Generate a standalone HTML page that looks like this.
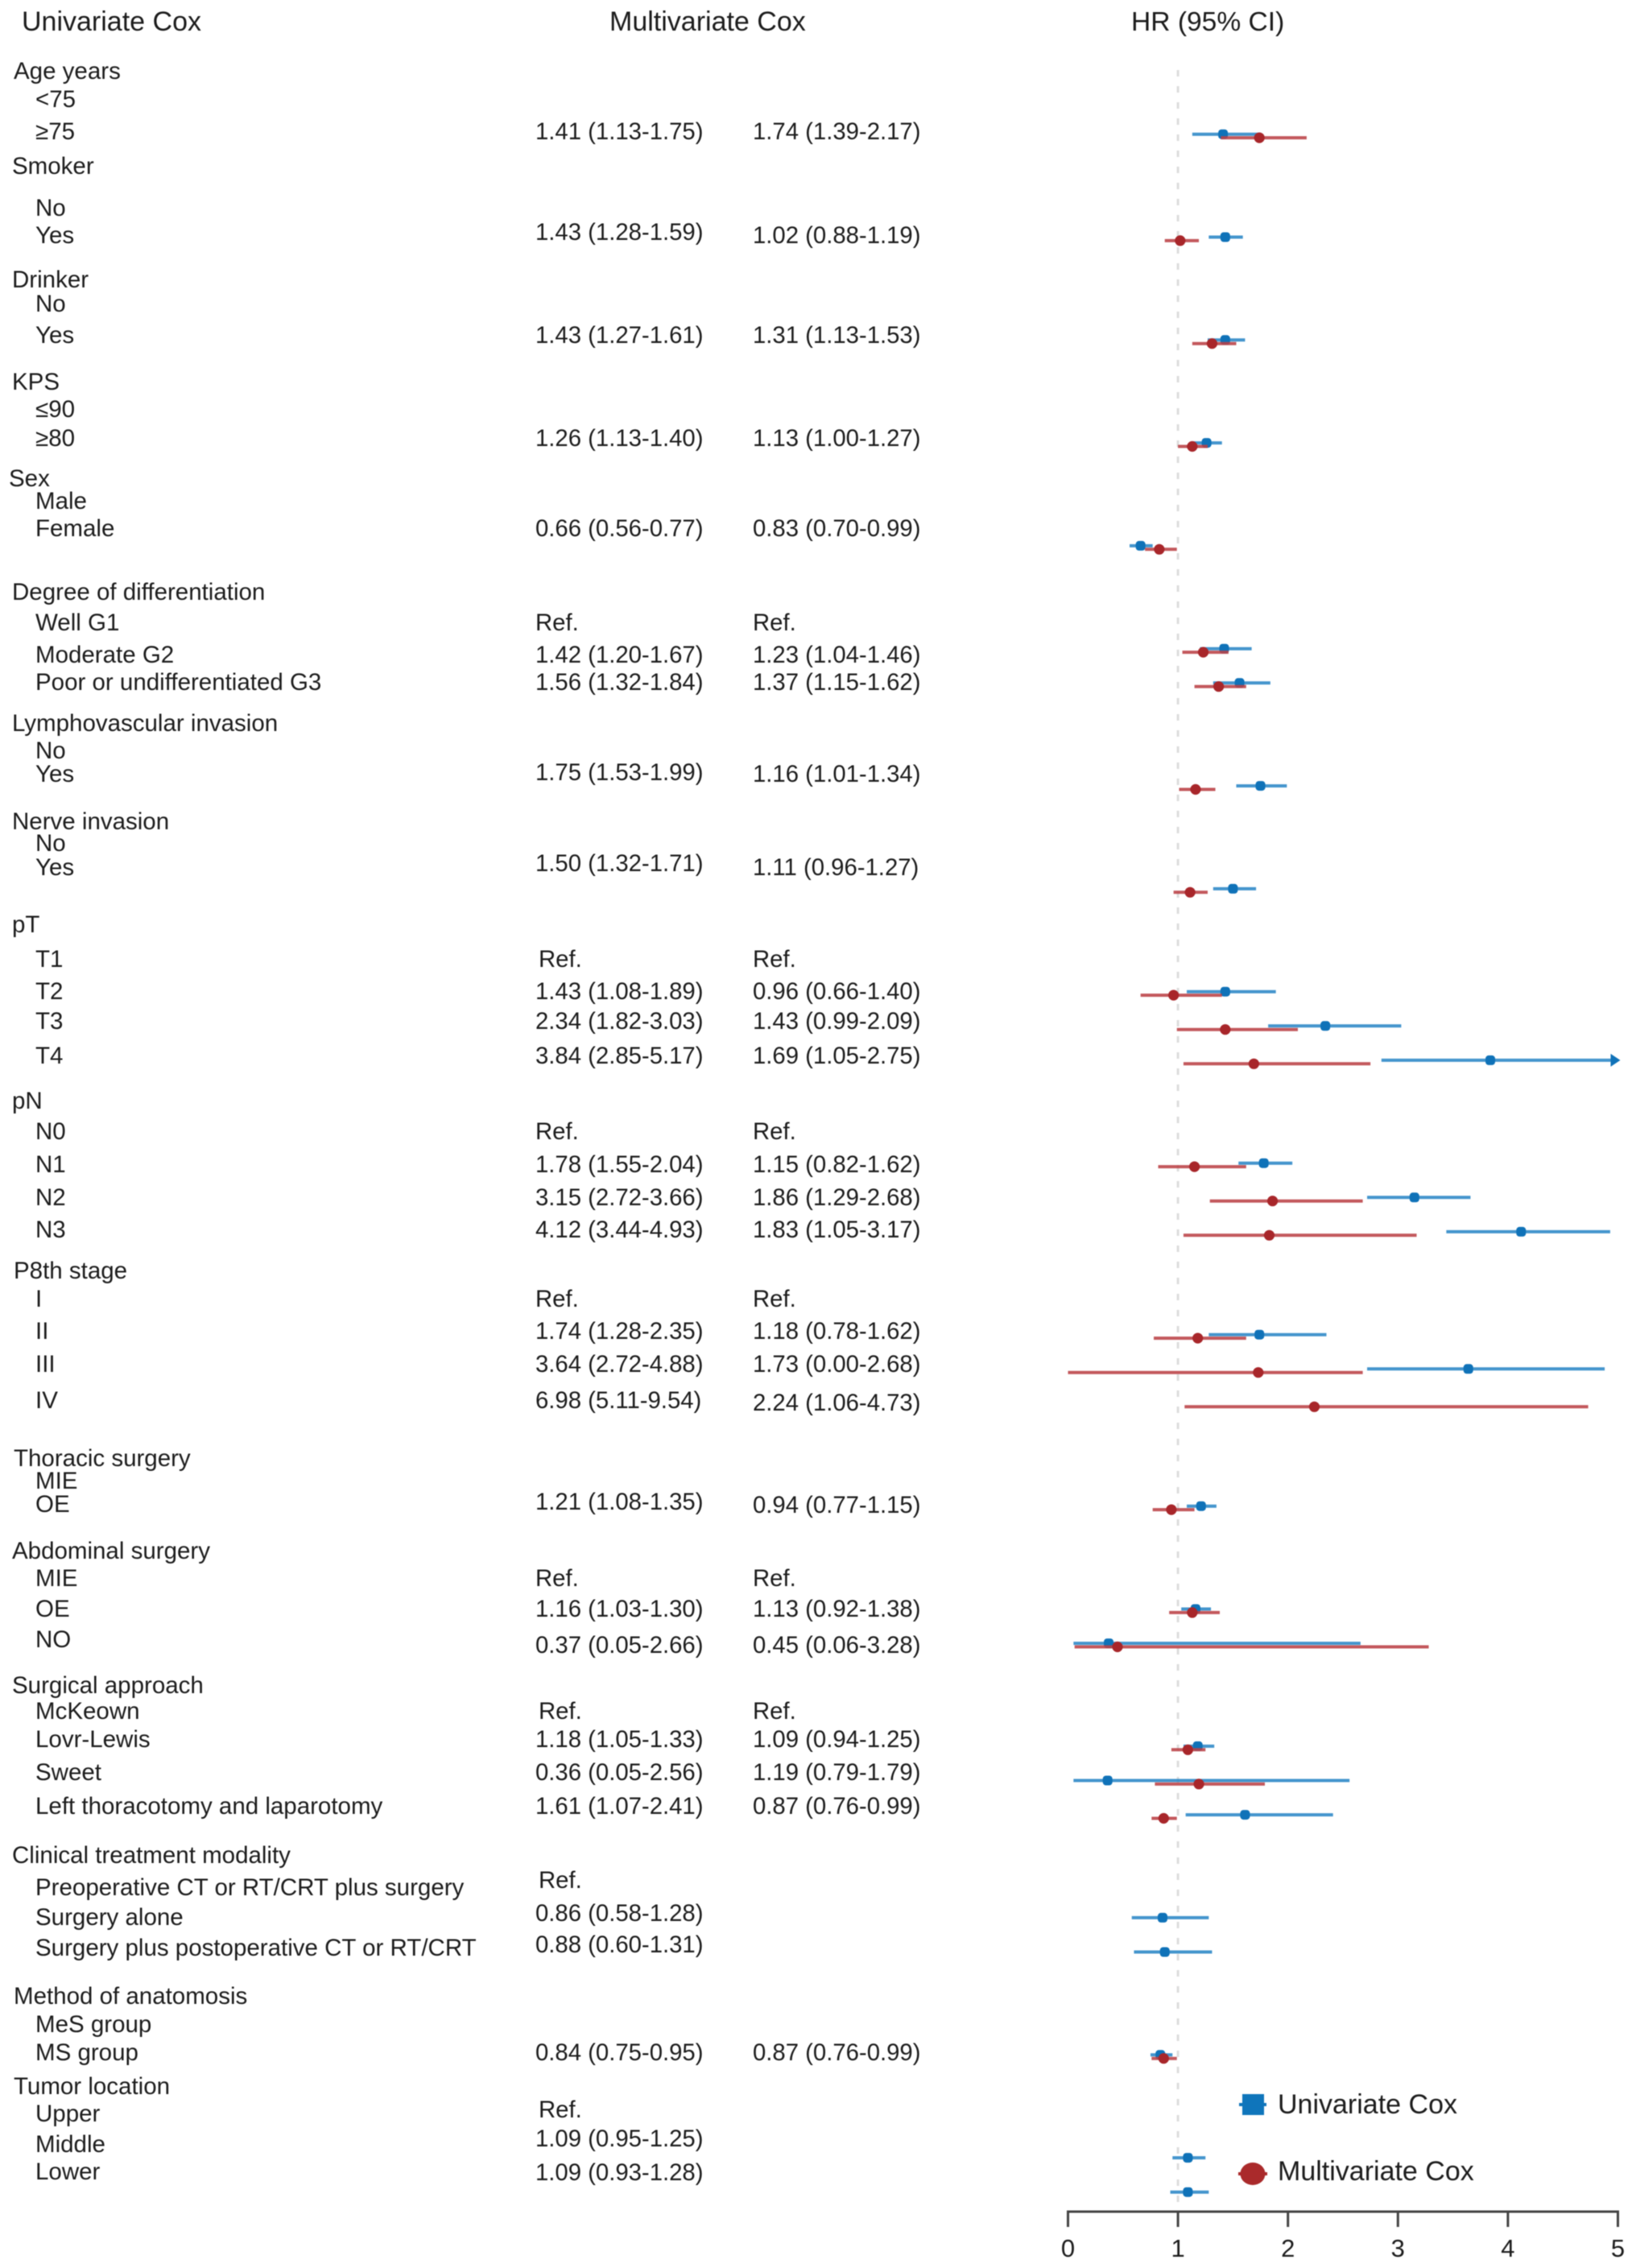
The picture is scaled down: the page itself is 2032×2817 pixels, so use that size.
<!DOCTYPE html>
<html lang="en">
<head>
<meta charset="utf-8">
<title>Forest plot of univariate and multivariate Cox regression</title>
<style>
  html, body { margin: 0; padding: 0; background: #fff; }
  body { width: 2032px; height: 2817px; overflow: hidden; }
  #chart { display: block; filter: blur(0.55px); }
  text { font-family: "Liberation Sans", "DejaVu Sans", sans-serif; fill: #1c1c1c; font-size: 29.3px; }
  .labels text { font-size: 29.5px; }
  .hd { font-size: 34px; }
</style>
</head>
<body>
<svg id="chart" xmlns="http://www.w3.org/2000/svg" width="2032" height="2817" viewBox="0 0 2032 2817">
  <rect x="0" y="0" width="2032" height="2817" fill="#fff"/>

  <g>
    <text class="hd" x="27" y="38">Univariate Cox</text>
    <text class="hd" x="757" y="38">Multivariate Cox</text>
    <text style="font-size:33.6px" x="1405" y="38">HR (95% CI)</text>
  </g>

  <g class="labels">
    <text x="17" y="98">Age years</text>
    <text x="44" y="133">&lt;75</text>
    <text x="44" y="173">≥75</text>
    <text x="15" y="216">Smoker</text>
    <text x="44" y="268">No</text>
    <text x="44" y="302">Yes</text>
    <text x="15" y="357">Drinker</text>
    <text x="44" y="387">No</text>
    <text x="44" y="426">Yes</text>
    <text x="15" y="484">KPS</text>
    <text x="44" y="518">≤90</text>
    <text x="44" y="554">≥80</text>
    <text x="11" y="604">Sex</text>
    <text x="44" y="632">Male</text>
    <text x="44" y="666">Female</text>
    <text x="15" y="745">Degree of differentiation</text>
    <text x="44" y="783">Well G1</text>
    <text x="44" y="823">Moderate G2</text>
    <text x="44" y="857">Poor or undifferentiated G3</text>
    <text x="15" y="908">Lymphovascular invasion</text>
    <text x="44" y="942">No</text>
    <text x="44" y="971">Yes</text>
    <text x="15" y="1030">Nerve invasion</text>
    <text x="44" y="1057">No</text>
    <text x="44" y="1087">Yes</text>
    <text x="15" y="1158">pT</text>
    <text x="44" y="1201">T1</text>
    <text x="44" y="1241">T2</text>
    <text x="44" y="1278">T3</text>
    <text x="44" y="1321">T4</text>
    <text x="15" y="1377">pN</text>
    <text x="44" y="1415">N0</text>
    <text x="44" y="1456">N1</text>
    <text x="44" y="1497">N2</text>
    <text x="44" y="1537">N3</text>
    <text x="17" y="1588">P8th stage</text>
    <text x="44" y="1623">I</text>
    <text x="44" y="1663">II</text>
    <text x="44" y="1704">III</text>
    <text x="44" y="1749">IV</text>
    <text x="17" y="1821">Thoracic surgery</text>
    <text x="44" y="1849">MIE</text>
    <text x="44" y="1878">OE</text>
    <text x="15" y="1936">Abdominal surgery</text>
    <text x="44" y="1970">MIE</text>
    <text x="44" y="2008">OE</text>
    <text x="44" y="2046">NO</text>
    <text x="15" y="2103">Surgical approach</text>
    <text x="44" y="2135">McKeown</text>
    <text x="44" y="2170">Lovr-Lewis</text>
    <text x="44" y="2211">Sweet</text>
    <text x="44" y="2253">Left thoracotomy and laparotomy</text>
    <text x="15" y="2314">Clinical treatment modality</text>
    <text x="44" y="2354">Preoperative CT or RT/CRT plus surgery</text>
    <text x="44" y="2391">Surgery alone</text>
    <text x="44" y="2429">Surgery plus postoperative CT or RT/CRT</text>
    <text x="17" y="2489">Method of anatomosis</text>
    <text x="44" y="2524">MeS group</text>
    <text x="44" y="2559">MS group</text>
    <text x="17" y="2601">Tumor location</text>
    <text x="44" y="2635">Upper</text>
    <text x="44" y="2673">Middle</text>
    <text x="44" y="2707">Lower</text>
  </g>

  <g>
    <text x="665" y="173">1.41 (1.13-1.75)</text>
    <text x="665" y="298">1.43 (1.28-1.59)</text>
    <text x="665" y="426">1.43 (1.27-1.61)</text>
    <text x="665" y="554">1.26 (1.13-1.40)</text>
    <text x="665" y="666">0.66 (0.56-0.77)</text>
    <text x="665" y="783">Ref.</text>
    <text x="665" y="823">1.42 (1.20-1.67)</text>
    <text x="665" y="857">1.56 (1.32-1.84)</text>
    <text x="665" y="969">1.75 (1.53-1.99)</text>
    <text x="665" y="1082">1.50 (1.32-1.71)</text>
    <text x="669" y="1201">Ref.</text>
    <text x="665" y="1241">1.43 (1.08-1.89)</text>
    <text x="665" y="1278">2.34 (1.82-3.03)</text>
    <text x="665" y="1321">3.84 (2.85-5.17)</text>
    <text x="665" y="1415">Ref.</text>
    <text x="665" y="1456">1.78 (1.55-2.04)</text>
    <text x="665" y="1497">3.15 (2.72-3.66)</text>
    <text x="665" y="1537">4.12 (3.44-4.93)</text>
    <text x="665" y="1623">Ref.</text>
    <text x="665" y="1663">1.74 (1.28-2.35)</text>
    <text x="665" y="1704">3.64 (2.72-4.88)</text>
    <text x="665" y="1749">6.98 (5.11-9.54)</text>
    <text x="665" y="1875">1.21 (1.08-1.35)</text>
    <text x="665" y="1970">Ref.</text>
    <text x="665" y="2008">1.16 (1.03-1.30)</text>
    <text x="665" y="2053">0.37 (0.05-2.66)</text>
    <text x="669" y="2135">Ref.</text>
    <text x="665" y="2170">1.18 (1.05-1.33)</text>
    <text x="665" y="2211">0.36 (0.05-2.56)</text>
    <text x="665" y="2253">1.61 (1.07-2.41)</text>
    <text x="669" y="2345">Ref.</text>
    <text x="665" y="2386">0.86 (0.58-1.28)</text>
    <text x="665" y="2425">0.88 (0.60-1.31)</text>
    <text x="665" y="2559">0.84 (0.75-0.95)</text>
    <text x="669" y="2630">Ref.</text>
    <text x="665" y="2666">1.09 (0.95-1.25)</text>
    <text x="665" y="2708">1.09 (0.93-1.28)</text>
  </g>

  <g>
    <text x="935" y="173">1.74 (1.39-2.17)</text>
    <text x="935" y="302">1.02 (0.88-1.19)</text>
    <text x="935" y="426">1.31 (1.13-1.53)</text>
    <text x="935" y="554">1.13 (1.00-1.27)</text>
    <text x="935" y="666">0.83 (0.70-0.99)</text>
    <text x="935" y="783">Ref.</text>
    <text x="935" y="823">1.23 (1.04-1.46)</text>
    <text x="935" y="857">1.37 (1.15-1.62)</text>
    <text x="935" y="971">1.16 (1.01-1.34)</text>
    <text x="935" y="1087">1.11 (0.96-1.27)</text>
    <text x="935" y="1201">Ref.</text>
    <text x="935" y="1241">0.96 (0.66-1.40)</text>
    <text x="935" y="1278">1.43 (0.99-2.09)</text>
    <text x="935" y="1321">1.69 (1.05-2.75)</text>
    <text x="935" y="1415">Ref.</text>
    <text x="935" y="1456">1.15 (0.82-1.62)</text>
    <text x="935" y="1497">1.86 (1.29-2.68)</text>
    <text x="935" y="1537">1.83 (1.05-3.17)</text>
    <text x="935" y="1623">Ref.</text>
    <text x="935" y="1663">1.18 (0.78-1.62)</text>
    <text x="935" y="1704">1.73 (0.00-2.68)</text>
    <text x="935" y="1752">2.24 (1.06-4.73)</text>
    <text x="935" y="1879">0.94 (0.77-1.15)</text>
    <text x="935" y="1970">Ref.</text>
    <text x="935" y="2008">1.13 (0.92-1.38)</text>
    <text x="935" y="2053">0.45 (0.06-3.28)</text>
    <text x="935" y="2135">Ref.</text>
    <text x="935" y="2170">1.09 (0.94-1.25)</text>
    <text x="935" y="2211">1.19 (0.79-1.79)</text>
    <text x="935" y="2253">0.87 (0.76-0.99)</text>
    <text x="935" y="2559">0.87 (0.76-0.99)</text>
  </g>

  <g id="plot"></g>

  <g>
    <g>
      <line x1="1539" x2="1573" y1="2614" y2="2614" stroke="#0f75bb" stroke-width="4"/>
      <rect x="1543" y="2601" width="27" height="26" fill="#0f75bb"/>
      <text class="hd" x="1587" y="2625">Univariate Cox</text>
    </g>
    <g>
      <line x1="1538" x2="1574" y1="2700" y2="2700" stroke="#aa2a2b" stroke-width="4"/>
      <ellipse cx="1556" cy="2700" rx="15.5" ry="14" fill="#aa2a2b"/>
      <text class="hd" x="1587" y="2708">Multivariate Cox</text>
    </g>
  </g>
</svg>

<script>
// ---- chart data (one entry per plot row, null = no estimate drawn) ----
const categories = [
  "Age years", "<75", "≥75",
  "Smoker", "Smoker No", "Smoker Yes",
  "Drinker", "Drinker No", "Drinker Yes",
  "KPS", "≤90", "≥80",
  "Sex", "Male", "Female",
  "Degree of differentiation", "Well G1", "Moderate G2", "Poor or undifferentiated G3",
  "Lymphovascular invasion", "LVI No", "LVI Yes",
  "Nerve invasion", "Nerve No", "Nerve Yes",
  "pT", "T1", "T2", "T3", "T4",
  "pN", "N0", "N1", "N2", "N3",
  "P8th stage", "I", "II", "III", "IV",
  "Thoracic surgery", "Thoracic MIE", "Thoracic OE",
  "Abdominal surgery", "Abdominal MIE", "Abdominal OE", "Abdominal NO",
  "Surgical approach", "McKeown", "Lovr-Lewis", "Sweet", "Left thoracotomy and laparotomy",
  "Clinical treatment modality", "Preoperative CT or RT/CRT plus surgery", "Surgery alone", "Surgery plus postoperative CT or RT/CRT",
  "Method of anatomosis", "MeS group", "MS group",
  "Tumor location", "Upper", "Middle", "Lower"
];
const uniHR = [
  null, null, 1.41,
  null, null, 1.43,
  null, null, 1.43,
  null, null, 1.26,
  null, null, 0.66,
  null, null, 1.42, 1.56,
  null, null, 1.75,
  null, null, 1.50,
  null, null, 1.43, 2.34, 3.84,
  null, null, 1.78, 3.15, 4.12,
  null, null, 1.74, 3.64, 6.98,
  null, null, 1.21,
  null, null, 1.16, 0.37,
  null, null, 1.18, 0.36, 1.61,
  null, null, 0.86, 0.88,
  null, null, 0.84,
  null, null, 1.09, 1.09
];
const uniLow = [
  null, null, 1.13,
  null, null, 1.28,
  null, null, 1.27,
  null, null, 1.13,
  null, null, 0.56,
  null, null, 1.20, 1.32,
  null, null, 1.53,
  null, null, 1.32,
  null, null, 1.08, 1.82, 2.85,
  null, null, 1.55, 2.72, 3.44,
  null, null, 1.28, 2.72, 5.11,
  null, null, 1.08,
  null, null, 1.03, 0.05,
  null, null, 1.05, 0.05, 1.07,
  null, null, 0.58, 0.60,
  null, null, 0.75,
  null, null, 0.95, 0.93
];
const uniHigh = [
  null, null, 1.75,
  null, null, 1.59,
  null, null, 1.61,
  null, null, 1.40,
  null, null, 0.77,
  null, null, 1.67, 1.84,
  null, null, 1.99,
  null, null, 1.71,
  null, null, 1.89, 3.03, 5.17,
  null, null, 2.04, 3.66, 4.93,
  null, null, 2.35, 4.88, 9.54,
  null, null, 1.35,
  null, null, 1.30, 2.66,
  null, null, 1.33, 2.56, 2.41,
  null, null, 1.28, 1.31,
  null, null, 0.95,
  null, null, 1.25, 1.28
];
const multiHR = [
  null, null, 1.74,
  null, null, 1.02,
  null, null, 1.31,
  null, null, 1.13,
  null, null, 0.83,
  null, null, 1.23, 1.37,
  null, null, 1.16,
  null, null, 1.11,
  null, null, 0.96, 1.43, 1.69,
  null, null, 1.15, 1.86, 1.83,
  null, null, 1.18, 1.73, 2.24,
  null, null, 0.94,
  null, null, 1.13, 0.45,
  null, null, 1.09, 1.19, 0.87,
  null, null, null, null,
  null, null, 0.87,
  null, null, null, null
];
const multiLow = [
  null, null, 1.39,
  null, null, 0.88,
  null, null, 1.13,
  null, null, 1.00,
  null, null, 0.70,
  null, null, 1.04, 1.15,
  null, null, 1.01,
  null, null, 0.96,
  null, null, 0.66, 0.99, 1.05,
  null, null, 0.82, 1.29, 1.05,
  null, null, 0.78, 0.00, 1.06,
  null, null, 0.77,
  null, null, 0.92, 0.06,
  null, null, 0.94, 0.79, 0.76,
  null, null, null, null,
  null, null, 0.76,
  null, null, null, null
];
const multiHigh = [
  null, null, 2.17,
  null, null, 1.19,
  null, null, 1.53,
  null, null, 1.27,
  null, null, 0.99,
  null, null, 1.46, 1.62,
  null, null, 1.34,
  null, null, 1.27,
  null, null, 1.40, 2.09, 2.75,
  null, null, 1.62, 2.68, 3.17,
  null, null, 1.62, 2.68, 4.73,
  null, null, 1.15,
  null, null, 1.38, 3.28,
  null, null, 1.25, 1.79, 0.99,
  null, null, null, null,
  null, null, 0.99,
  null, null, null, null
];
const xTicks = [0, 1, 2, 3, 4, 5];
const referenceHR = 1;

// ---- axis functions ----
const xMin = xTicks[0];
const xMax = xTicks[xTicks.length - 1];
function xScale(v) { return 1326.5 + (v - xMin) * (2009.5 - 1326.5) / (xMax - xMin); }
function yScale(i) { return 81.5 + i * 42.6; }
const axisY = 2747;

const SVGNS = 'http://www.w3.org/2000/svg';
const plot = document.getElementById('plot');
function make(tag, parent) {
  const el = document.createElementNS(SVGNS, tag);
  parent.appendChild(el);
  
  return el;
}

// reference line at HR = 1
const refLine = make('line', plot);

refLine.setAttribute('x1', xScale(referenceHR));
refLine.setAttribute('x2', xScale(referenceHR));
refLine.setAttribute('y1', 87);
refLine.setAttribute('y2', axisY);
refLine.setAttribute('stroke', '#dddddd');
refLine.setAttribute('stroke-width', 3);
refLine.setAttribute('stroke-dasharray', '8 12');

// series
function drawSeries(hr, low, high, lineColor, dotColor, yOffset, isSquare, seriesName) {
  const group = make('g', plot);
  
  hr.forEach(function (value, i) {
    if (value === null || low[i] > xMax) return;
    const y = yScale(i) + yOffset;
    const clipped = high[i] > xMax;
    const line = make('line', group);
    
    line.setAttribute('x1', xScale(low[i]));
    line.setAttribute('x2', xScale(Math.min(high[i], xMax)));
    line.setAttribute('y1', y);
    line.setAttribute('y2', y);
    line.setAttribute('stroke', lineColor);
    line.setAttribute('stroke-width', 4);
    line.setAttribute('stroke-opacity', 0.88);
    if (clipped) {
      const arrow = make('polygon', group);
      
      const tip = xScale(xMax);
      arrow.setAttribute('points', (tip - 9) + ',' + (y - 8) + ' ' + (tip + 3) + ',' + y + ' ' + (tip - 9) + ',' + (y + 8));
      arrow.setAttribute('fill', dotColor);
    }
    if (value <= xMax) {
      if (isSquare) {
        const square = make('rect', group);
        
        square.setAttribute('x', xScale(value) - 6);
        square.setAttribute('y', y - 6);
        square.setAttribute('width', 12);
        square.setAttribute('height', 12);
        square.setAttribute('rx', 4);
        square.setAttribute('fill', dotColor);
      } else {
        const dot = make('circle', group);
        
        dot.setAttribute('cx', xScale(value));
        dot.setAttribute('cy', y);
        dot.setAttribute('r', 6.6);
        dot.setAttribute('fill', dotColor);
      }
    }
  });
}
drawSeries(uniHR, uniLow, uniHigh, '#2a86c6', '#0f72b8', 0, true, 'univariate');
drawSeries(multiHR, multiLow, multiHigh, '#bb4146', '#a8262a', 4.4, false, 'multivariate');

// x axis
const axisGroup = make('g', plot);

const axisLine = make('line', axisGroup);

axisLine.setAttribute('x1', xScale(xMin) - 1.5);
axisLine.setAttribute('x2', xScale(xMax) + 1.5);
axisLine.setAttribute('y1', axisY);
axisLine.setAttribute('y2', axisY);
axisLine.setAttribute('stroke', '#444');
axisLine.setAttribute('stroke-width', 3);
xTicks.forEach(function (t) {
  const tick = make('line', axisGroup);
  
  tick.setAttribute('x1', xScale(t));
  tick.setAttribute('x2', xScale(t));
  tick.setAttribute('y1', axisY);
  tick.setAttribute('y2', axisY + 19);
  tick.setAttribute('stroke', '#444');
  tick.setAttribute('stroke-width', 3);
  const label = make('text', axisGroup);
  
  label.setAttribute('x', xScale(t));
  label.setAttribute('y', axisY + 56);
  label.setAttribute('text-anchor', 'middle');
  label.setAttribute('style', 'font-size:31px');
  label.textContent = String(t);
});
</script>
</body>
</html>
